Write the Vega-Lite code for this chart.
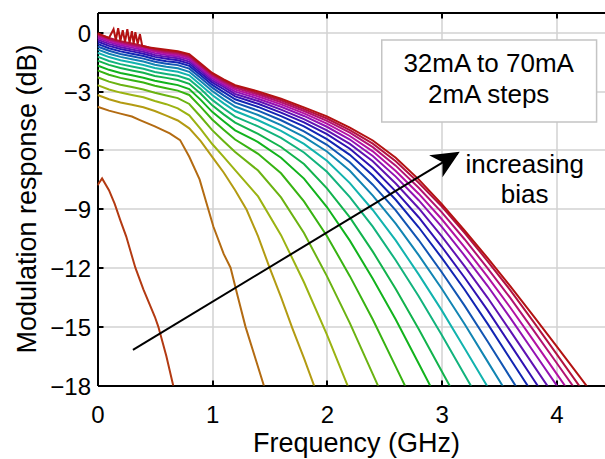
{
"$schema": "https://vega.github.io/schema/vega-lite/v6.json",
"width": 507,
"height": 373,
"autosize": {"type": "none"},
"padding": {"left": 97.5, "top": 12.5, "right": 0.5, "bottom": 73.5},
"background": "white",
"config": {"view": {"stroke": null}, "font": "Liberation Sans"},
"resolve": {"axis": {"x": "independent"}},
"layer": [
{
"data": {"values": [
{"I":32,"f":0,"r":-7.8},{"I":32,"f":0.04,"r":-7.45},{"I":32,"f":0.1,"r":-8.05},{"I":32,"f":0.15,"r":-8.75},{"I":32,"f":0.2,"r":-9.6},{"I":32,"f":0.25,"r":-10.4},{"I":32,"f":0.3,"r":-11.4},{"I":32,"f":0.33,"r":-12.0},{"I":32,"f":0.4,"r":-13.1},{"I":32,"f":0.45,"r":-13.8},{"I":32,"f":0.5,"r":-14.5},{"I":32,"f":0.53,"r":-15.0},{"I":32,"f":0.6,"r":-16.5},{"I":32,"f":0.66,"r":-18.0},{"I":32,"f":0.7,"r":-18.9},
{"I":34,"f":0,"r":-3.8},{"I":34,"f":0.1,"r":-4.0},{"I":34,"f":0.2,"r":-4.15},{"I":34,"f":0.3,"r":-4.3},{"I":34,"f":0.37,"r":-4.48},{"I":34,"f":0.5,"r":-4.8},{"I":34,"f":0.63,"r":-5.16},{"I":34,"f":0.72,"r":-5.5},{"I":34,"f":0.8,"r":-6.35},{"I":34,"f":0.89,"r":-7.5},{"I":34,"f":0.95,"r":-8.7},{"I":34,"f":1.01,"r":-9.9},{"I":34,"f":1.1,"r":-11.3},{"I":34,"f":1.16,"r":-12.0},{"I":34,"f":1.22,"r":-13.4},{"I":34,"f":1.29,"r":-15.0},{"I":34,"f":1.37,"r":-16.5},{"I":34,"f":1.45,"r":-18.0},{"I":34,"f":1.5,"r":-19.0},
{"I":36,"f":0,"r":-3.2},{"I":36,"f":0.1,"r":-3.42},{"I":36,"f":0.2,"r":-3.58},{"I":36,"f":0.3,"r":-3.7},{"I":36,"f":0.4,"r":-3.83},{"I":36,"f":0.5,"r":-4.02},{"I":36,"f":0.6,"r":-4.25},{"I":36,"f":0.7,"r":-4.5},{"I":36,"f":0.8,"r":-4.9},{"I":36,"f":0.9,"r":-5.55},{"I":36,"f":1.0,"r":-6.35},{"I":36,"f":1.1,"r":-7.15},{"I":36,"f":1.2,"r":-8.05},{"I":36,"f":1.3,"r":-9.05},{"I":36,"f":1.4,"r":-10.4},{"I":36,"f":1.5,"r":-12.0},{"I":36,"f":1.6,"r":-13.5},{"I":36,"f":1.7,"r":-15.1},{"I":36,"f":1.8,"r":-16.6},{"I":36,"f":1.9,"r":-18.2},{"I":36,"f":2.0,"r":-19.8},
{"I":38,"f":0,"r":-2.7},{"I":38,"f":0.1,"r":-2.92},{"I":38,"f":0.2,"r":-3.08},{"I":38,"f":0.3,"r":-3.2},{"I":38,"f":0.4,"r":-3.32},{"I":38,"f":0.5,"r":-3.51},{"I":38,"f":0.6,"r":-3.67},{"I":38,"f":0.7,"r":-3.88},{"I":38,"f":0.8,"r":-4.24},{"I":38,"f":0.9,"r":-4.94},{"I":38,"f":1.0,"r":-5.7},{"I":38,"f":1.1,"r":-6.35},{"I":38,"f":1.2,"r":-7.03},{"I":38,"f":1.4,"r":-8.37},{"I":38,"f":1.6,"r":-10.34},{"I":38,"f":1.8,"r":-12.74},{"I":38,"f":2.0,"r":-15.41},{"I":38,"f":2.2,"r":-18.29},
{"I":40,"f":0,"r":-2.3},{"I":40,"f":0.1,"r":-2.52},{"I":40,"f":0.2,"r":-2.68},{"I":40,"f":0.3,"r":-2.8},{"I":40,"f":0.4,"r":-2.92},{"I":40,"f":0.5,"r":-3.09},{"I":40,"f":0.6,"r":-3.23},{"I":40,"f":0.7,"r":-3.36},{"I":40,"f":0.8,"r":-3.66},{"I":40,"f":0.9,"r":-4.31},{"I":40,"f":1.0,"r":-4.99},{"I":40,"f":1.1,"r":-5.56},{"I":40,"f":1.2,"r":-6.11},{"I":40,"f":1.4,"r":-7.05},{"I":40,"f":1.6,"r":-8.42},{"I":40,"f":1.8,"r":-10.23},{"I":40,"f":2.0,"r":-12.43},{"I":40,"f":2.2,"r":-14.82},{"I":40,"f":2.4,"r":-17.42},{"I":40,"f":2.6,"r":-20.03},
{"I":42,"f":0,"r":-1.95},{"I":42,"f":0.1,"r":-2.17},{"I":42,"f":0.2,"r":-2.33},{"I":42,"f":0.3,"r":-2.45},{"I":42,"f":0.4,"r":-2.57},{"I":42,"f":0.5,"r":-2.73},{"I":42,"f":0.6,"r":-2.86},{"I":42,"f":0.7,"r":-2.98},{"I":42,"f":0.8,"r":-3.2},{"I":42,"f":0.9,"r":-3.81},{"I":42,"f":1.0,"r":-4.45},{"I":42,"f":1.1,"r":-4.97},{"I":42,"f":1.2,"r":-5.47},{"I":42,"f":1.4,"r":-6.2},{"I":42,"f":1.6,"r":-7.19},{"I":42,"f":1.8,"r":-8.62},{"I":42,"f":2.0,"r":-10.38},{"I":42,"f":2.2,"r":-12.43},{"I":42,"f":2.4,"r":-14.64},{"I":42,"f":2.6,"r":-17.04},{"I":42,"f":2.8,"r":-19.45},
{"I":44,"f":0,"r":-1.7},{"I":44,"f":0.1,"r":-1.92},{"I":44,"f":0.2,"r":-2.08},{"I":44,"f":0.3,"r":-2.2},{"I":44,"f":0.4,"r":-2.32},{"I":44,"f":0.5,"r":-2.48},{"I":44,"f":0.6,"r":-2.59},{"I":44,"f":0.7,"r":-2.7},{"I":44,"f":0.8,"r":-2.9},{"I":44,"f":0.9,"r":-3.45},{"I":44,"f":1.0,"r":-4.06},{"I":44,"f":1.1,"r":-4.54},{"I":44,"f":1.2,"r":-5.0},{"I":44,"f":1.4,"r":-5.6},{"I":44,"f":1.6,"r":-6.4},{"I":44,"f":1.8,"r":-7.46},{"I":44,"f":2.0,"r":-8.91},{"I":44,"f":2.2,"r":-10.62},{"I":44,"f":2.4,"r":-12.56},{"I":44,"f":2.6,"r":-14.64},{"I":44,"f":2.8,"r":-16.88},{"I":44,"f":3.0,"r":-19.13},
{"I":46,"f":0,"r":-1.45},{"I":46,"f":0.1,"r":-1.67},{"I":46,"f":0.2,"r":-1.83},{"I":46,"f":0.3,"r":-1.95},{"I":46,"f":0.4,"r":-2.07},{"I":46,"f":0.5,"r":-2.23},{"I":46,"f":0.6,"r":-2.33},{"I":46,"f":0.7,"r":-2.44},{"I":46,"f":0.8,"r":-2.63},{"I":46,"f":0.9,"r":-3.14},{"I":46,"f":1.0,"r":-3.73},{"I":46,"f":1.1,"r":-4.19},{"I":46,"f":1.2,"r":-4.61},{"I":46,"f":1.4,"r":-5.18},{"I":46,"f":1.6,"r":-5.85},{"I":46,"f":1.8,"r":-6.72},{"I":46,"f":2.0,"r":-7.96},{"I":46,"f":2.2,"r":-9.44},{"I":46,"f":2.4,"r":-11.18},{"I":46,"f":2.6,"r":-13.08},{"I":46,"f":2.8,"r":-15.12},{"I":46,"f":3.0,"r":-17.26},{"I":46,"f":3.2,"r":-19.4},
{"I":48,"f":0,"r":-1.25},{"I":48,"f":0.1,"r":-1.47},{"I":48,"f":0.2,"r":-1.63},{"I":48,"f":0.3,"r":-1.75},{"I":48,"f":0.4,"r":-1.87},{"I":48,"f":0.5,"r":-2.03},{"I":48,"f":0.6,"r":-2.13},{"I":48,"f":0.7,"r":-2.22},{"I":48,"f":0.8,"r":-2.41},{"I":48,"f":0.9,"r":-2.9},{"I":48,"f":1.0,"r":-3.45},{"I":48,"f":1.1,"r":-3.89},{"I":48,"f":1.2,"r":-4.3},{"I":48,"f":1.4,"r":-4.8},{"I":48,"f":1.6,"r":-5.39},{"I":48,"f":1.8,"r":-6.13},{"I":48,"f":2.0,"r":-7.11},{"I":48,"f":2.2,"r":-8.4},{"I":48,"f":2.4,"r":-9.91},{"I":48,"f":2.6,"r":-11.62},{"I":48,"f":2.8,"r":-13.45},{"I":48,"f":3.0,"r":-15.41},{"I":48,"f":3.2,"r":-17.45},{"I":48,"f":3.4,"r":-19.49},
{"I":50,"f":0,"r":-1.05},{"I":50,"f":0.1,"r":-1.27},{"I":50,"f":0.2,"r":-1.43},{"I":50,"f":0.3,"r":-1.55},{"I":50,"f":0.4,"r":-1.67},{"I":50,"f":0.5,"r":-1.83},{"I":50,"f":0.6,"r":-1.93},{"I":50,"f":0.7,"r":-2.02},{"I":50,"f":0.8,"r":-2.2},{"I":50,"f":0.9,"r":-2.69},{"I":50,"f":1.0,"r":-3.2},{"I":50,"f":1.1,"r":-3.63},{"I":50,"f":1.2,"r":-4.02},{"I":50,"f":1.4,"r":-4.49},{"I":50,"f":1.6,"r":-5.03},{"I":50,"f":1.8,"r":-5.69},{"I":50,"f":2.0,"r":-6.55},{"I":50,"f":2.2,"r":-7.69},{"I":50,"f":2.4,"r":-9.06},{"I":50,"f":2.6,"r":-10.61},{"I":50,"f":2.8,"r":-12.34},{"I":50,"f":3.0,"r":-14.16},{"I":50,"f":3.2,"r":-16.1},{"I":50,"f":3.4,"r":-18.06},{"I":50,"f":3.6,"r":-20.02},
{"I":52,"f":0,"r":-0.88},{"I":52,"f":0.1,"r":-1.1},{"I":52,"f":0.2,"r":-1.26},{"I":52,"f":0.3,"r":-1.38},{"I":52,"f":0.4,"r":-1.5},{"I":52,"f":0.5,"r":-1.66},{"I":52,"f":0.6,"r":-1.76},{"I":52,"f":0.7,"r":-1.84},{"I":52,"f":0.8,"r":-2.02},{"I":52,"f":0.9,"r":-2.5},{"I":52,"f":1.0,"r":-3.0},{"I":52,"f":1.1,"r":-3.41},{"I":52,"f":1.2,"r":-3.79},{"I":52,"f":1.4,"r":-4.22},{"I":52,"f":1.6,"r":-4.74},{"I":52,"f":1.8,"r":-5.34},{"I":52,"f":2.0,"r":-6.08},{"I":52,"f":2.2,"r":-7.06},{"I":52,"f":2.4,"r":-8.33},{"I":52,"f":2.6,"r":-9.76},{"I":52,"f":2.8,"r":-11.36},{"I":52,"f":3.0,"r":-13.06},{"I":52,"f":3.2,"r":-14.87},{"I":52,"f":3.4,"r":-16.77},{"I":52,"f":3.6,"r":-18.67},
{"I":54,"f":0,"r":-0.73},{"I":54,"f":0.1,"r":-0.95},{"I":54,"f":0.2,"r":-1.11},{"I":54,"f":0.3,"r":-1.23},{"I":54,"f":0.4,"r":-1.35},{"I":54,"f":0.5,"r":-1.51},{"I":54,"f":0.6,"r":-1.61},{"I":54,"f":0.7,"r":-1.68},{"I":54,"f":0.8,"r":-1.86},{"I":54,"f":0.9,"r":-2.34},{"I":54,"f":1.0,"r":-2.83},{"I":54,"f":1.1,"r":-3.22},{"I":54,"f":1.2,"r":-3.59},{"I":54,"f":1.4,"r":-4.0},{"I":54,"f":1.6,"r":-4.49},{"I":54,"f":1.8,"r":-5.05},{"I":54,"f":2.0,"r":-5.74},{"I":54,"f":2.2,"r":-6.63},{"I":54,"f":2.4,"r":-7.77},{"I":54,"f":2.6,"r":-9.08},{"I":54,"f":2.8,"r":-10.59},{"I":54,"f":3.0,"r":-12.22},{"I":54,"f":3.2,"r":-13.93},{"I":54,"f":3.4,"r":-15.75},{"I":54,"f":3.6,"r":-17.6},{"I":54,"f":3.8,"r":-19.45},
{"I":56,"f":0,"r":-0.6},{"I":56,"f":0.1,"r":-0.82},{"I":56,"f":0.2,"r":-0.98},{"I":56,"f":0.3,"r":-1.1},{"I":56,"f":0.4,"r":-1.22},{"I":56,"f":0.5,"r":-1.38},{"I":56,"f":0.6,"r":-1.48},{"I":56,"f":0.7,"r":-1.55},{"I":56,"f":0.8,"r":-1.72},{"I":56,"f":0.9,"r":-2.2},{"I":56,"f":1.0,"r":-2.69},{"I":56,"f":1.1,"r":-3.06},{"I":56,"f":1.2,"r":-3.42},{"I":56,"f":1.4,"r":-3.81},{"I":56,"f":1.6,"r":-4.28},{"I":56,"f":1.8,"r":-4.8},{"I":56,"f":2.0,"r":-5.45},{"I":56,"f":2.2,"r":-6.25},{"I":56,"f":2.4,"r":-7.3},{"I":56,"f":2.6,"r":-8.54},{"I":56,"f":2.8,"r":-9.94},{"I":56,"f":3.0,"r":-11.49},{"I":56,"f":3.2,"r":-13.11},{"I":56,"f":3.4,"r":-14.85},{"I":56,"f":3.6,"r":-16.66},{"I":56,"f":3.8,"r":-18.46},
{"I":58,"f":0,"r":-0.48},{"I":58,"f":0.1,"r":-0.7},{"I":58,"f":0.2,"r":-0.86},{"I":58,"f":0.3,"r":-0.98},{"I":58,"f":0.4,"r":-1.1},{"I":58,"f":0.5,"r":-1.26},{"I":58,"f":0.6,"r":-1.36},{"I":58,"f":0.7,"r":-1.43},{"I":58,"f":0.8,"r":-1.6},{"I":58,"f":0.9,"r":-2.08},{"I":58,"f":1.0,"r":-2.56},{"I":58,"f":1.1,"r":-2.91},{"I":58,"f":1.2,"r":-3.27},{"I":58,"f":1.4,"r":-3.65},{"I":58,"f":1.6,"r":-4.1},{"I":58,"f":1.8,"r":-4.6},{"I":58,"f":2.0,"r":-5.2},{"I":58,"f":2.2,"r":-5.94},{"I":58,"f":2.4,"r":-6.92},{"I":58,"f":2.6,"r":-8.11},{"I":58,"f":2.8,"r":-9.43},{"I":58,"f":3.0,"r":-10.92},{"I":58,"f":3.2,"r":-12.5},{"I":58,"f":3.4,"r":-14.16},{"I":58,"f":3.6,"r":-15.92},{"I":58,"f":3.8,"r":-17.68},{"I":58,"f":4.0,"r":-19.45},
{"I":60,"f":0,"r":-0.38},{"I":60,"f":0.1,"r":-0.6},{"I":60,"f":0.2,"r":-0.76},{"I":60,"f":0.3,"r":-0.88},{"I":60,"f":0.4,"r":-1.0},{"I":60,"f":0.5,"r":-1.16},{"I":60,"f":0.6,"r":-1.26},{"I":60,"f":0.7,"r":-1.33},{"I":60,"f":0.8,"r":-1.5},{"I":60,"f":0.9,"r":-1.97},{"I":60,"f":1.0,"r":-2.46},{"I":60,"f":1.1,"r":-2.79},{"I":60,"f":1.2,"r":-3.15},{"I":60,"f":1.4,"r":-3.51},{"I":60,"f":1.6,"r":-3.95},{"I":60,"f":1.8,"r":-4.43},{"I":60,"f":2.0,"r":-5.0},{"I":60,"f":2.2,"r":-5.69},{"I":60,"f":2.4,"r":-6.58},{"I":60,"f":2.6,"r":-7.71},{"I":60,"f":2.8,"r":-8.97},{"I":60,"f":3.0,"r":-10.39},{"I":60,"f":3.2,"r":-11.92},{"I":60,"f":3.4,"r":-13.52},{"I":60,"f":3.6,"r":-15.23},{"I":60,"f":3.8,"r":-16.96},{"I":60,"f":4.0,"r":-18.69},
{"I":62,"f":0,"r":-0.29},{"I":62,"f":0.1,"r":-0.51},{"I":62,"f":0.2,"r":-0.67},{"I":62,"f":0.3,"r":-0.79},{"I":62,"f":0.4,"r":-0.91},{"I":62,"f":0.5,"r":-1.07},{"I":62,"f":0.6,"r":-1.17},{"I":62,"f":0.7,"r":-1.24},{"I":62,"f":0.8,"r":-1.4},{"I":62,"f":0.9,"r":-1.88},{"I":62,"f":1.0,"r":-2.36},{"I":62,"f":1.1,"r":-2.7},{"I":62,"f":1.2,"r":-3.03},{"I":62,"f":1.4,"r":-3.39},{"I":62,"f":1.6,"r":-3.8},{"I":62,"f":1.8,"r":-4.27},{"I":62,"f":2.0,"r":-4.82},{"I":62,"f":2.2,"r":-5.47},{"I":62,"f":2.4,"r":-6.31},{"I":62,"f":2.6,"r":-7.36},{"I":62,"f":2.8,"r":-8.56},{"I":62,"f":3.0,"r":-9.91},{"I":62,"f":3.2,"r":-11.38},{"I":62,"f":3.4,"r":-12.92},{"I":62,"f":3.6,"r":-14.57},{"I":62,"f":3.8,"r":-16.27},{"I":62,"f":4.0,"r":-17.97},{"I":62,"f":4.2,"r":-19.67},
{"I":64,"f":0,"r":-0.21},{"I":64,"f":0.1,"r":-0.43},{"I":64,"f":0.2,"r":-0.59},{"I":64,"f":0.3,"r":-0.71},{"I":64,"f":0.4,"r":-0.83},{"I":64,"f":0.5,"r":-0.99},{"I":64,"f":0.6,"r":-1.09},{"I":64,"f":0.7,"r":-1.16},{"I":64,"f":0.8,"r":-1.32},{"I":64,"f":0.9,"r":-1.79},{"I":64,"f":1.0,"r":-2.27},{"I":64,"f":1.1,"r":-2.61},{"I":64,"f":1.2,"r":-2.93},{"I":64,"f":1.4,"r":-3.28},{"I":64,"f":1.6,"r":-3.68},{"I":64,"f":1.8,"r":-4.14},{"I":64,"f":2.0,"r":-4.66},{"I":64,"f":2.2,"r":-5.29},{"I":64,"f":2.4,"r":-6.07},{"I":64,"f":2.6,"r":-7.07},{"I":64,"f":2.8,"r":-8.23},{"I":64,"f":3.0,"r":-9.52},{"I":64,"f":3.2,"r":-10.95},{"I":64,"f":3.4,"r":-12.45},{"I":64,"f":3.6,"r":-14.04},{"I":64,"f":3.8,"r":-15.7},{"I":64,"f":4.0,"r":-17.38},{"I":64,"f":4.2,"r":-19.06},
{"I":66,"f":0,"r":-0.14},{"I":66,"f":0.1,"r":-0.36},{"I":66,"f":0.2,"r":-0.52},{"I":66,"f":0.3,"r":-0.64},{"I":66,"f":0.4,"r":-0.76},{"I":66,"f":0.5,"r":-0.92},{"I":66,"f":0.6,"r":-1.02},{"I":66,"f":0.7,"r":-1.09},{"I":66,"f":0.8,"r":-1.25},{"I":66,"f":0.9,"r":-1.72},{"I":66,"f":1.0,"r":-2.2},{"I":66,"f":1.1,"r":-2.53},{"I":66,"f":1.2,"r":-2.84},{"I":66,"f":1.4,"r":-3.18},{"I":66,"f":1.6,"r":-3.57},{"I":66,"f":1.8,"r":-4.02},{"I":66,"f":2.0,"r":-4.52},{"I":66,"f":2.2,"r":-5.12},{"I":66,"f":2.4,"r":-5.86},{"I":66,"f":2.6,"r":-6.8},{"I":66,"f":2.8,"r":-7.93},{"I":66,"f":3.0,"r":-9.17},{"I":66,"f":3.2,"r":-10.55},{"I":66,"f":3.4,"r":-12.02},{"I":66,"f":3.6,"r":-13.55},{"I":66,"f":3.8,"r":-15.18},{"I":66,"f":4.0,"r":-16.83},{"I":66,"f":4.2,"r":-18.48},
{"I":68,"f":0,"r":-0.08},{"I":68,"f":0.1,"r":-0.3},{"I":68,"f":0.2,"r":-0.46},{"I":68,"f":0.3,"r":-0.58},{"I":68,"f":0.4,"r":-0.7},{"I":68,"f":0.5,"r":-0.86},{"I":68,"f":0.6,"r":-0.96},{"I":68,"f":0.7,"r":-1.03},{"I":68,"f":0.8,"r":-1.18},{"I":68,"f":0.9,"r":-1.66},{"I":68,"f":1.0,"r":-2.13},{"I":68,"f":1.1,"r":-2.47},{"I":68,"f":1.2,"r":-2.76},{"I":68,"f":1.4,"r":-3.1},{"I":68,"f":1.6,"r":-3.47},{"I":68,"f":1.8,"r":-3.92},{"I":68,"f":2.0,"r":-4.4},{"I":68,"f":2.2,"r":-4.99},{"I":68,"f":2.4,"r":-5.68},{"I":68,"f":2.6,"r":-6.58},{"I":68,"f":2.8,"r":-7.67},{"I":68,"f":3.0,"r":-8.87},{"I":68,"f":3.2,"r":-10.22},{"I":68,"f":3.4,"r":-11.66},{"I":68,"f":3.6,"r":-13.15},{"I":68,"f":3.8,"r":-14.75},{"I":68,"f":4.0,"r":-16.38},{"I":68,"f":4.2,"r":-18.02},{"I":68,"f":4.3,"r":-18.85},
{"I":70,"f":0,"r":-0.05},{"I":70,"f":0.06,"r":-0.2},{"I":70,"f":0.1,"r":-0.3},{"I":70,"f":0.14,"r":0.15},{"I":70,"f":0.16,"r":-0.4},{"I":70,"f":0.18,"r":0.2},{"I":70,"f":0.2,"r":-0.45},{"I":70,"f":0.22,"r":0.1},{"I":70,"f":0.24,"r":-0.5},{"I":70,"f":0.26,"r":0.15},{"I":70,"f":0.28,"r":-0.55},{"I":70,"f":0.3,"r":0.05},{"I":70,"f":0.315,"r":-0.6},{"I":70,"f":0.33,"r":0.0},{"I":70,"f":0.35,"r":-0.6},{"I":70,"f":0.37,"r":-0.1},{"I":70,"f":0.39,"r":-0.7},{"I":70,"f":0.45,"r":-0.78},{"I":70,"f":0.5,"r":-0.82},{"I":70,"f":0.6,"r":-0.9},{"I":70,"f":0.7,"r":-0.97},{"I":70,"f":0.8,"r":-1.12},{"I":70,"f":0.9,"r":-1.6},{"I":70,"f":1.0,"r":-2.08},{"I":70,"f":1.1,"r":-2.41},{"I":70,"f":1.2,"r":-2.7},{"I":70,"f":1.4,"r":-3.02},{"I":70,"f":1.6,"r":-3.39},{"I":70,"f":1.8,"r":-3.83},{"I":70,"f":2.0,"r":-4.29},{"I":70,"f":2.2,"r":-4.86},{"I":70,"f":2.4,"r":-5.52},{"I":70,"f":2.6,"r":-6.4},{"I":70,"f":2.8,"r":-7.5},{"I":70,"f":3.0,"r":-8.75},{"I":70,"f":3.2,"r":-10.1},{"I":70,"f":3.4,"r":-11.5},{"I":70,"f":3.6,"r":-12.95},{"I":70,"f":3.8,"r":-14.45},{"I":70,"f":4.0,"r":-15.98},{"I":70,"f":4.2,"r":-17.52},{"I":70,"f":4.3,"r":-18.3}
]},
"mark": {"type": "line", "strokeWidth": 2, "clip": true},
"encoding": {
"x": {"field": "f", "type": "quantitative", "scale": {"domain": [0, 4.42], "nice": false, "zero": false},
"axis": {"orient": "bottom", "values": [0,1,2,3,4], "format": "d", "grid": true, "gridColor": "#d2d2d2", "gridWidth": 1.5, "gridOpacity": 1,
"domainColor": "black", "domainWidth": 2, "tickColor": "black", "tickWidth": 2, "tickSize": -5.5,
"labelFont": "Liberation Sans", "labelFontSize": 24, "labelColor": "black", "labelBaseline": "alphabetic", "labelPadding": 42.5, "labelFlush": false, "labelOverlap": false,
"title": "Frequency (GHz)", "titleFont": "Liberation Sans", "titleFontSize": 27, "titleFontWeight": "normal", "titleColor": "black", "titleX": 258.5, "titleY": 66, "titleBaseline": "alphabetic", "titleAlign": "center", "titleAnchor": null}},
"y": {"field": "r", "type": "quantitative", "scale": {"domain": [-18, 1], "nice": false, "zero": false},
"axis": {"values": [-18,-15,-12,-9,-6,-3,0], "format": "d", "grid": true, "gridColor": "#d2d2d2", "gridWidth": 1.5, "gridOpacity": 1,
"domainColor": "black", "domainWidth": 2, "tickColor": "black", "tickWidth": 2, "tickSize": -5.5,
"labelFont": "Liberation Sans", "labelFontSize": 24, "labelColor": "black", "labelAlign": "right", "labelBaseline": "middle", "labelPadding": 12.5, "labelOffset": 2, "labelFlush": false, "labelOverlap": false,
"title": "Modulation response (dB)", "titleFont": "Liberation Sans", "titleFontSize": 27, "titleFontWeight": "normal", "titleColor": "black", "titleAngle": -90, "titleX": -62.5, "titleY": 186, "titleBaseline": "alphabetic", "titleAlign": "center", "titleAnchor": null}},
"color": {"field": "I", "type": "ordinal", "legend": null,
"scale": {"domain": [32,34,36,38,40,42,44,46,48,50,52,54,56,58,60,62,64,66,68,70],
"range": ["#b33a12","#b36b12","#b39b12","#9bb312","#6bb312","#38b312","#12b31d","#12b34d","#12b37d","#12b3ae","#1285b3","#1255b3","#1225b3","#3012b3","#6012b3","#9312b3","#b312a3","#b31273","#b31242","#b31212"]}}
}
},
{
"data": {"values": [{"f": 2.478, "f2": 4.351, "r": -0.407, "r2": -4.58}]},
"mark": {"type": "rect", "fill": "white", "stroke": "#c4c4c4", "strokeWidth": 1.5},
"encoding": {
"x": {"field": "f", "type": "quantitative", "axis": {"orient": "top", "values": [0,1,2,3,4], "labels": false, "grid": false, "title": null, "domainColor": "black", "domainWidth": 2, "tickColor": "black", "tickWidth": 2, "tickSize": -5.5}},
"x2": {"field": "f2"},
"y": {"field": "r", "type": "quantitative"},
"y2": {"field": "r2"}
}
},
{
"data": {"values": [
{"f": 3.41, "r": -2.02, "t": "32mA to 70mA"},
{"f": 3.41, "r": -3.63, "t": "2mA steps"},
{"f": 3.724, "r": -7.18, "t": "increasing"},
{"f": 3.724, "r": -8.72, "t": "bias"}
]},
"mark": {"type": "text", "font": "Liberation Sans", "fontSize": 26, "color": "black", "align": "center", "baseline": "alphabetic"},
"encoding": {
"x": {"field": "f", "type": "quantitative", "axis": null},
"y": {"field": "r", "type": "quantitative"},
"text": {"field": "t"}
}
},
{
"data": {"values": [{"f": 0.309, "r": -16.18}, {"f": 3.14, "r": -6.18}]},
"mark": {"type": "line", "color": "black", "strokeWidth": 2},
"encoding": {
"x": {"field": "f", "type": "quantitative", "axis": null},
"y": {"field": "r", "type": "quantitative"}
}
},
{
"data": {"values": [{"f": 3.158, "r": -6.09}]},
"mark": {"type": "point", "shape": "M0,0L-0.46,1L0,0.72L0.46,1Z", "filled": true, "color": "black", "opacity": 1, "size": 3136, "angle": 58.8, "strokeWidth": 0},
"encoding": {
"x": {"field": "f", "type": "quantitative", "axis": null},
"y": {"field": "r", "type": "quantitative"}
}
}
]
}
